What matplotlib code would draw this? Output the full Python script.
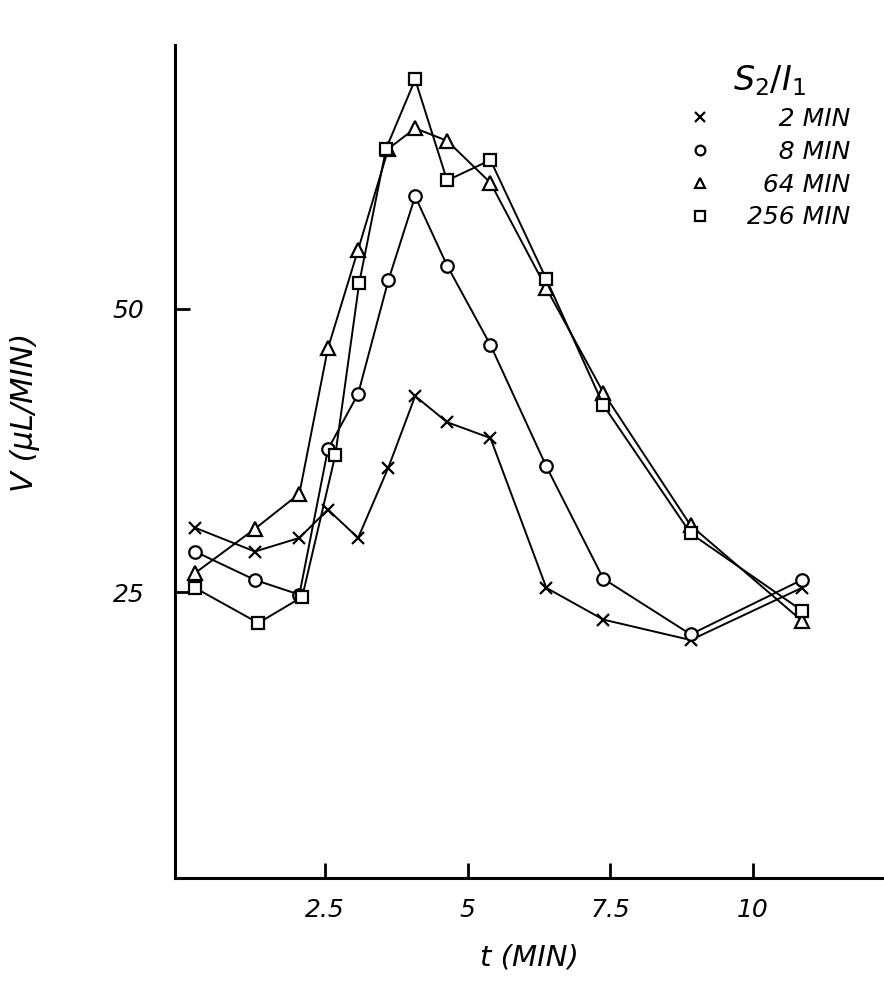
import numpy as np
import matplotlib.pyplot as plt

# time points (min)
t = [0.22, 1.27, 2.05, 2.55, 3.08, 3.61, 4.08, 4.64, 5.40, 6.38, 7.38, 8.91, 10.86]
t_256 = [0.22, 1.33, 2.10, 2.68, 3.10, 3.57, 4.08, 4.64, 5.40, 6.38, 7.38, 8.91, 10.86]

# V (uL/min) for each S2/I1 interval
v_2 = [30.7, 28.6, 29.8, 32.3, 29.8, 36.0, 42.3, 40.0, 38.6, 25.4, 22.6, 20.8, 25.4]
v_8 = [28.6, 26.1, 24.8, 37.6, 42.5, 52.5, 59.9, 53.8, 46.8, 36.1, 26.2, 21.3, 26.1]
v_64 = [26.7, 30.6, 33.7, 46.5, 55.2, 64.1, 65.9, 64.8, 61.1, 51.8, 42.6, 30.9, 22.5]
v_256 = [25.4, 22.3, 24.6, 37.1, 52.3, 64.1, 70.2, 61.3, 63.1, 52.6, 41.5, 30.2, 23.4]

labels = ["\u2007\u20072 MIN", "\u2007\u20078 MIN", "\u200764 MIN", "256 MIN"]
xticks = [2.5, 5, 7.5, 10]
xticklabels = ["2.5", "5", "7.5", "10"]
yticks = [25, 50]

fig = plt.figure(figsize=(8.84, 9.88), dpi=100)
ax = fig.add_axes([0.198, 0.111, 0.802, 0.843])

ax.plot(t, v_2, color="black", lw=1.4, marker="x", ms=9, mew=1.6, label=labels[0])
ax.plot(t, v_8, color="black", lw=1.4, marker="o", ms=9, mew=1.6, mfc="white", label=labels[1])
ax.plot(t, v_64, color="black", lw=1.4, marker="^", ms=10, mew=1.6, mfc="white", label=labels[2])
ax.plot(t_256, v_256, color="black", lw=1.4, marker="s", ms=9, mew=1.6, mfc="white", label=labels[3])

ax.set_xlim(-0.13, 12.3)
ax.set_ylim(-0.2, 73.2)

for side in ["top", "right"]:
    ax.spines[side].set_visible(False)
for side in ["left", "bottom"]:
    ax.spines[side].set_linewidth(2.2)

ax.set_xticks(xticks)
ax.set_xticklabels(xticklabels, fontsize=18, fontstyle="italic")
ax.set_yticks(yticks)
ax.set_yticklabels([str(y) for y in yticks], fontsize=18, fontstyle="italic")
ax.tick_params(axis="both", direction="in", length=11, width=2, pad=14)
ax.tick_params(axis="y", pad=22)

ax.set_xlabel("t (MIN)", fontsize=21, fontstyle="italic", labelpad=16)
ax.set_ylabel("V (\u03bcL/MIN)", fontsize=22, fontstyle="italic")
ax.yaxis.set_label_coords(-0.19, 0.56)

leg = ax.legend(loc="upper right", bbox_to_anchor=(0.985, 1.005), frameon=False,
                fontsize=18, title="$S_2/I_1$", title_fontsize=24,
                handlelength=1.0, handletextpad=1.4, labelspacing=0.35)
for line in leg.get_lines():
    line.set_linestyle("none")
    line.set_markersize(7)
for txt in leg.get_texts():
    txt.set_fontstyle("italic")
leg.get_title().set_fontstyle("italic")

fig.savefig("out.png", dpi=100)
